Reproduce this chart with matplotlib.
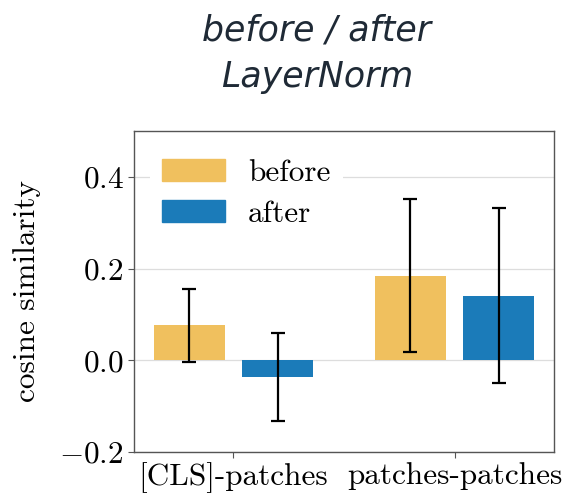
import numpy as np
import matplotlib
matplotlib.use("Agg")
import matplotlib.pyplot as plt
from matplotlib.patches import Patch

# Mean cosine similarity and spread, before and after LayerNorm
categories = ["[CLS]-patches", "patches-patches"]
series_names = ["before", "after"]
before_mean = [0.076, 0.184]
before_err = [0.080, 0.167]
after_mean = [-0.036, 0.141]
after_err = [0.096, 0.190]
y_ticks = [-0.2, 0.0, 0.2, 0.4]
title_lines = ["before / after", "LayerNorm"]

c_before = "#F0C05E"
c_after = "#1B7BB9"
fs = 22.5

plt.rcParams["font.family"] = "cmr10"
plt.rcParams["axes.unicode_minus"] = False
plt.rcParams["mathtext.fontset"] = "cm"

fig = plt.figure(figsize=(5.68, 5.0), dpi=100)
ax = fig.add_axes([134 / 568, 1 - 452 / 500, 420 / 568, 321 / 500])

x = np.arange(len(categories))
w = 0.32
off = 0.2
ax.bar(x - off, before_mean, w, color=c_before, zorder=2)
ax.bar(x + off, after_mean, w, color=c_after, zorder=2)
ax.errorbar(x - off, before_mean, yerr=before_err, fmt="none", ecolor="black",
            elinewidth=1.6, capsize=5, capthick=1.6, zorder=3)
ax.errorbar(x + off, after_mean, yerr=after_err, fmt="none", ecolor="black",
            elinewidth=1.6, capsize=5, capthick=1.6, zorder=3)

ax.set_xlim(-0.45, 1.45)
ax.set_ylim(-0.2, 0.5)
ax.set_yticks(y_ticks)
ax.set_yticklabels([f"${v:.1f}$" for v in y_ticks])
ax.set_xticks(x)
ax.set_xticklabels(categories)
ax.tick_params(axis="both", labelsize=fs, length=4, width=0.8, color="#555555")
ax.yaxis.grid(True, color="#dddddd", linewidth=0.9, zorder=0)
ax.set_axisbelow(True)
for s in ax.spines.values():
    s.set_color("#555555")
    s.set_linewidth(1.0)

ax.set_ylabel("cosine similarity", fontsize=fs)
ax.yaxis.set_label_coords(-0.222, 0.5)

handles = [Patch(color=c_before, label=series_names[0]),
           Patch(color=c_after, label=series_names[1])]
leg = ax.legend(handles=handles, loc="upper left", frameon=True, fontsize=fs,
                handlelength=2.0, handleheight=0.7, handletextpad=0.75,
                labelspacing=0.4, borderaxespad=0.5, fancybox=False,
                framealpha=1.0)
leg.get_frame().set_facecolor("white")
leg.get_frame().set_edgecolor("none")

title_kw = dict(ha="center", va="baseline", fontsize=25, style="italic",
                family="DejaVu Sans", fontweight="normal", color="#1f2a36")
fig.text(317 / 568, 1 - 40 / 500, title_lines[0], **title_kw)
fig.text(317 / 568, 1 - 87 / 500, title_lines[1], **title_kw)

fig.savefig("out.png", dpi=100)
